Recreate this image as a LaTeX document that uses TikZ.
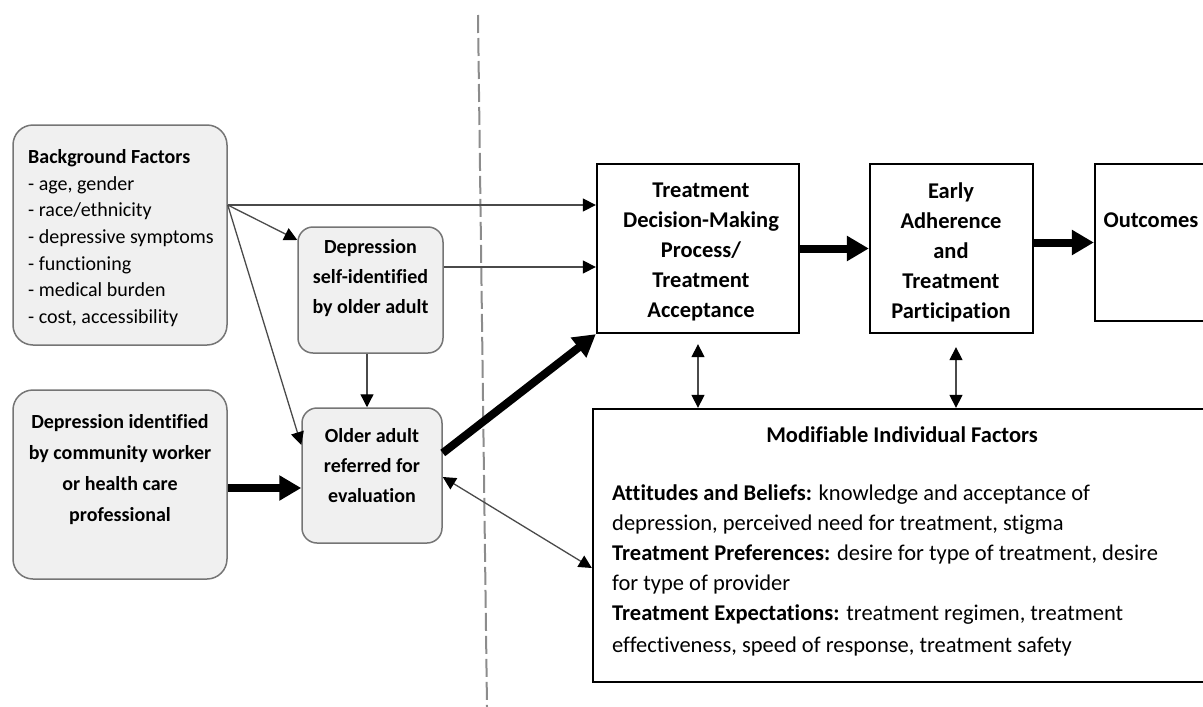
\documentclass[tikz,border=0pt]{standalone}
\usepackage{fontspec}
\setmainfont[Ligatures=NoCommon]{Carlito}
\usetikzlibrary{arrows.meta,calc}
\definecolor{boxfill}{HTML}{F0F0F0}
\definecolor{boxgray}{HTML}{757575}
\definecolor{linegray}{HTML}{4A4A4A}
\definecolor{dashgray}{HTML}{8C8C8C}
\tikzset{
  rbox/.style={draw=boxgray, fill=boxfill, line width=1.5pt, inner sep=0pt},
  sbox/.style={draw=black, fill=white, line width=2.3pt, inner sep=0pt},
  txt/.style={inner sep=0pt, align=center},
  thinarr/.style={draw=linegray, line width=1.3pt, -{Triangle[length=13pt,width=13pt,color=black]}},
  thinboth/.style={draw=linegray, line width=1.3pt, {Triangle[length=13pt,width=13pt,color=black]}-{Triangle[length=13pt,width=13pt,color=black]}},
  thickarr/.style={draw=black, line width=8pt, -{Triangle[length=22pt,width=24pt]}},
  divider/.style={draw=dashgray, line width=2pt, dash pattern=on 18pt off 5pt}
}
\begin{document}
\begin{tikzpicture}[x=1pt,y=-1pt]
\useasboundingbox (0,0) rectangle (1203,707);

% divider
\coordinate (divtop) at (478,15);
\coordinate (divbot) at (487,707);
\draw[divider] (divtop) -- (divbot);

% left boxes
\node[rbox, minimum width=214pt, minimum height=220pt, rounded corners=20pt] (bg) at (120,235) {};
\node[txt, align=left, anchor=west, font=\fontsize{20}{26.7}\selectfont] (bgt) at (28,238)
  {\textbf{Background Factors}\\- age, gender\\- race/ethnicity\\- depressive symptoms\\- functioning\\- medical burden\\- cost, accessibility};

\node[rbox, minimum width=214pt, minimum height=189pt, rounded corners=20pt] (ident) at (120,484.5) {};
\node[txt, font=\fontsize{20}{31}\selectfont\bfseries] (identt) at (120,469.5)
  {Depression identified\\by community worker\\or health care\\professional};

\node[rbox, minimum width=145pt, minimum height=126pt, rounded corners=15pt] (self) at (370.5,290) {};
\node[txt, font=\fontsize{20}{30}\selectfont\bfseries] (selft) at (370.5,278)
  {Depression\\self-identified\\by older adult};

\node[rbox, minimum width=140pt, minimum height=135pt, rounded corners=15pt] (older) at (372,475.5) {};
\node[txt, font=\fontsize{20}{30}\selectfont\bfseries] (oldert) at (372,466)
  {Older adult\\referred for\\evaluation};

% right boxes
\node[sbox, minimum width=202pt, minimum height=169pt] (tdm) at (698,248.5) {};
\node[txt, font=\fontsize{22.5}{30}\selectfont\bfseries] (tdmt) at (701,252)
  {Treatment\\Decision-Making\\Process/\\Treatment\\Acceptance};

\node[sbox, minimum width=163pt, minimum height=169pt] (early) at (951.5,248.5) {};
\node[txt, font=\fontsize{22.5}{30}\selectfont\bfseries] (earlyt) at (951,252)
  {Early\\Adherence\\and\\Treatment\\Participation};

\node[sbox, minimum width=122pt, minimum height=157pt] (out) at (1156,242.5) {};
\node[txt, font=\fontsize{22.5}{30}\selectfont\bfseries] (outt) at (1151,220) {Outcomes};

\node[sbox, minimum width=624pt, minimum height=273pt] (mod) at (905,545.5) {};
\node[txt, font=\fontsize{22.5}{30}\selectfont\bfseries] (modt) at (902,435) {Modifiable Individual Factors};
\node[txt, align=left, anchor=north west, font=\fontsize{22.5}{30}\selectfont] (modb) at (612,485)
  {\textbf{Attitudes and Beliefs:} knowledge and acceptance of\\
   depression, perceived need for treatment, stigma\\
   \textbf{Treatment Preferences:} desire for type of treatment, desire\\
   for type of provider\\
   \textbf{Treatment Expectations:} treatment regimen, treatment\\[2pt]
   effectiveness, speed of response, treatment safety};

% connectors
\draw[thinarr] ([yshift=30pt]bg.east) -- ([yshift=43.5pt]tdm.west);
\draw[thinarr] ([yshift=30pt]bg.east) -- ([yshift=50pt]self.west);
\draw[thinarr] ([yshift=30pt]bg.east) -- ([yshift=30.5pt]older.west);
\draw[thinarr] ([yshift=23pt]self.east) -- ([yshift=-18.5pt]tdm.west);
\draw[thinarr] ($(self.south)+(-3.5,0)$) -- ($(self.south |- older.north)+(-3.5,0)$);
\draw[thickarr] ([yshift=-3.5pt]ident.east) -- ([yshift=-12.5pt]older.west);
\draw[thickarr] ([yshift=22.5pt]older.east) -- (tdm.south west);
\draw[thickarr] (tdm.east) -- (early.west);
\draw[thickarr] (early.east |- out.west) -- (out.west);
\draw[thinboth] ([yshift=-1.5pt]older.east) -- ([yshift=-22.5pt]mod.west);
\draw[thinboth, shorten <=10pt] (tdm.south) -- (tdm.south |- mod.north);
\draw[thinboth, shorten <=13pt] ($(early.south)+(4.5,0)$) -- ($(early.south |- mod.north)+(4.5,0)$);
\end{tikzpicture}
\end{document}
